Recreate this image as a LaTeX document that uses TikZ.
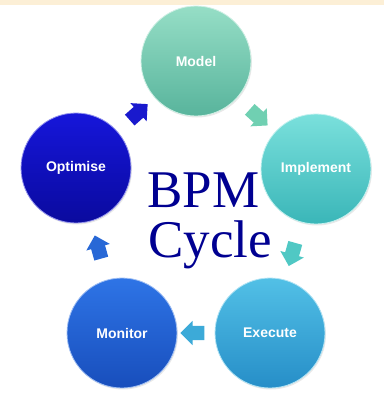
\documentclass[tikz,border=0pt]{standalone}
\usepackage{fontspec}
\setmainfont{Liberation Serif}
\newfontfamily\phasefont{Liberation Sans}
\usetikzlibrary{shapes.arrows,shadows}

\definecolor{bandbeige}{RGB}{252,239,214}
\definecolor{bpmblue}{RGB}{0,0,145}
\definecolor{modeltop}{RGB}{150,222,198}
\definecolor{modelbot}{RGB}{88,180,156}
\definecolor{impltop}{RGB}{122,224,220}
\definecolor{implbot}{RGB}{58,182,184}
\definecolor{exectop}{RGB}{82,192,230}
\definecolor{execbot}{RGB}{38,142,200}
\definecolor{montop}{RGB}{46,116,230}
\definecolor{monbot}{RGB}{24,78,188}
\definecolor{opttop}{RGB}{22,22,218}
\definecolor{optbot}{RGB}{10,10,158}
\definecolor{optarrow}{RGB}{25,25,205}
\definecolor{modelarrow}{RGB}{112,208,178}
\definecolor{implarrow}{RGB}{80,200,196}
\definecolor{execarrow}{RGB}{60,170,216}
\definecolor{monarrow}{RGB}{40,104,214}

\tikzset{
  phase/.style 2 args={circle, minimum size=110pt, inner sep=0pt,
    top color=#1, bottom color=#2, draw=white!55!#1, line width=0.8pt,
    drop shadow={opacity=0.18, shadow xshift=1pt, shadow yshift=-1.5pt},
    text=white, font=\phasefont\bfseries\fontsize{14}{16}\selectfont},
  flow/.style={single arrow, fill=#1, draw=none, minimum height=24pt,
    inner sep=7pt, single arrow head extend=5pt,
    sloped, allow upside down},
  title/.style={text=bpmblue, anchor=base, inner sep=0pt,
    font=\fontsize{53}{60}\selectfont}
}

\begin{document}
\begin{tikzpicture}[x=1pt,y=-1pt]

\useasboundingbox (0,0) rectangle (384,397);

% band
\fill[bandbeige] (0,0) rectangle (384,4.5);

% phases
\node[phase={modeltop}{modelbot}] (model) at (196,61) {Model};
\node[phase={impltop}{implbot}] (implement) at (316,169) {Implement};
\node[phase={exectop}{execbot}] (execute) at (270,333) {Execute};
\node[phase={montop}{monbot}] (monitor) at (122,333) {Monitor};
\node[phase={opttop}{optbot}] (optimise) at (76,168) {Optimise};

% arrows
\foreach \from/\to/\shade in {optimise/model/optarrow, model/implement/modelarrow,
  implement/execute/implarrow, execute/monitor/execarrow, monitor/optimise/monarrow}
{
    \path (\from) -- (\to) node[midway, flow=\shade] {};
}

% title
\node[title] (bpm) at (203.5,207) {BPM};
\node[title] (cycle) at (210,257) {Cycle};

\end{tikzpicture}
\end{document}
